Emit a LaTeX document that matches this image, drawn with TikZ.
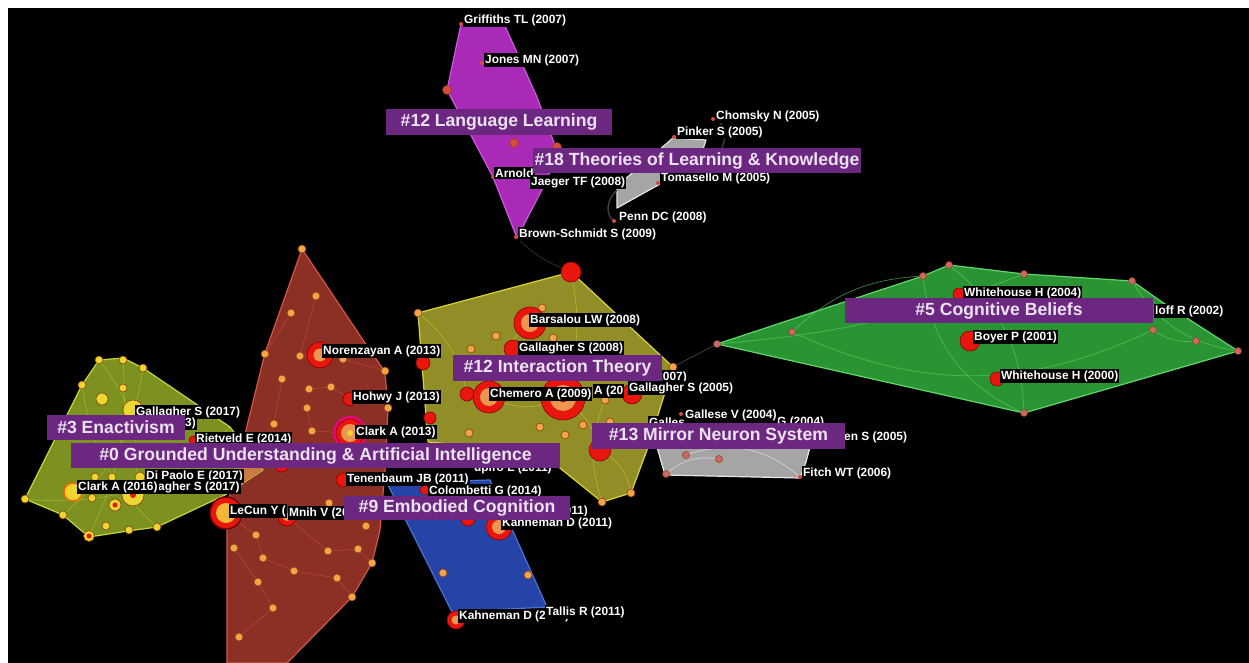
\documentclass[tikz,border=0pt]{standalone}
\usepackage{fontspec}
\setmainfont{Liberation Sans}
\newcommand\lblfont{\fontsize{11.9}{12}\selectfont\bfseries}
\newcommand\clfont{\fontsize{17.6}{18}\selectfont\bfseries}
\definecolor{clpurple}{RGB}{108,40,128}
\definecolor{cltext}{RGB}{236,226,242}
\definecolor{nodered}{RGB}{232,22,12}
\definecolor{nodedark}{RGB}{140,0,0}
\definecolor{nodeorange}{RGB}{236,150,80}
\definecolor{dotorange}{RGB}{240,165,70}
\definecolor{dotedge}{RGB}{140,60,20}
\definecolor{dotyellow}{RGB}{236,214,48}
\definecolor{dotpink}{RGB}{205,105,100}
\definecolor{tinyred}{RGB}{215,75,60}
\definecolor{redfill}{RGB}{140,48,38}
\definecolor{rededge}{RGB}{215,85,65}
\definecolor{grnfill}{RGB}{125,145,32}
\definecolor{grnedge}{RGB}{195,215,60}
\definecolor{yelfill}{RGB}{145,142,40}
\definecolor{yeledge}{RGB}{218,212,55}
\definecolor{blufill}{RGB}{38,68,168}
\definecolor{bluedge}{RGB}{75,115,215}
\definecolor{magfill}{RGB}{168,42,182}
\definecolor{magedge}{RGB}{205,90,220}
\definecolor{gryfill}{RGB}{165,165,165}
\definecolor{gryedge}{RGB}{228,228,228}
\definecolor{gvfill}{RGB}{42,148,52}
\definecolor{gvedge}{RGB}{95,215,105}
\definecolor{overlap}{RGB}{200,122,66}
\begin{document}
\begin{tikzpicture}[x=1pt,y=-1pt,
  lbl/.style={fill=black,text=white,font=\lblfont,inner xsep=1pt,inner ysep=1.2pt,anchor=west},
  clab/.style={fill=clpurple,text=cltext,font=\clfont,inner sep=0pt},
  rr/.style={circle,inner sep=0pt,fill=nodered,draw=nodedark,line width=0.6pt},
  oc/.style={circle,inner sep=0pt,fill=nodeorange},
  odot/.style={circle,inner sep=0pt,minimum size=8pt,fill=dotorange,draw=dotedge,line width=0.6pt},
  ydot/.style={circle,inner sep=0pt,minimum size=8pt,fill=dotyellow,draw=dotedge,line width=0.6pt},
  pdot/.style={circle,inner sep=0pt,minimum size=7pt,fill=dotpink,draw=dotedge,line width=0.5pt},
  tdot/.style={circle,inner sep=0pt,minimum size=4pt,fill=tinyred},
  mdot/.style={circle,inner sep=0pt,minimum size=9pt,fill=tinyred,draw=dotedge,line width=0.5pt},
  hull/.style={line width=1.2pt,line join=round},
  rlink/.style={draw=rededge,line width=0.6pt,opacity=0.55},
  ylink/.style={draw=yeledge,line width=0.7pt,opacity=0.5},
  glink/.style={draw=grnedge,line width=0.7pt,opacity=0.45},
  vlink/.style={draw=gvedge,line width=0.8pt,opacity=0.55},
  dlink/.style={draw=black!75,line width=1pt}
]
\useasboundingbox (0,0) rectangle (1249,663);
\fill[white] (0,0) rectangle (1249,663);
\fill[black] (8,8) rectangle (1249,663);

% ---------- hulls ----------
\draw[hull,fill=redfill,draw=rededge] (302,249) -- (363,340) -- (385,372) -- (388,410) -- (385,470) -- (380,530) -- (372,563) -- (352,597) -- (287,663) -- (227,663) -- (227,507) -- (265,353) -- cycle;
\draw[hull,fill=grnfill,draw=grnedge] (99,360) -- (123,358) -- (143,368) -- (230,427) -- (263,470) -- (225,495) -- (157,527) -- (128,531) -- (89,537) -- (63,515) -- (25,499) -- (82,385) -- cycle;
\begin{scope}
  \clip (302,249) -- (363,340) -- (385,372) -- (388,410) -- (385,470) -- (380,530) -- (372,563) -- (352,597) -- (287,663) -- (227,663) -- (227,507) -- (265,353) -- cycle;
  \fill[overlap] (143,368) -- (230,427) -- (263,470) -- (225,495) -- (157,527) -- cycle;
\end{scope}
\draw[hull,fill=yelfill,draw=yeledge] (418,313) -- (571,272) -- (673,367) -- (647,450) -- (631,493) -- (602,502) -- (540,452) -- (428,442) -- cycle;
\draw[hull,fill=blufill,draw=bluedge] (387,483) -- (490,480) -- (547,607) -- (452,612) -- cycle;
\draw[hull,fill=magfill,draw=magedge] (461,24) -- (505,26) -- (537,97) -- (556,148) -- (548,178) -- (517,238) -- (493,177) -- (447,90) -- cycle;
\draw[hull,fill=gryfill,draw=gryedge] (617,186) -- (673,138) -- (706,140) -- (698,165) -- (660,184) -- (617,208) -- cycle;
\draw[hull,fill=gryfill,draw=gryedge] (657,447) -- (670,432) -- (795,432) -- (810,447) -- (806,462) -- (800,478) -- (665,475) -- cycle;
\draw[hull,fill=gvfill,draw=gvedge] (717,344) -- (923,276) -- (949,265) -- (1024,274) -- (1132,281) -- (1162,302) -- (1238,351) -- (1024,413) -- cycle;

% ---------- red cluster (#0) ----------
\foreach \x/\y [count=\i] in {302/249,316/296,291/313,265/354,300/356,343/359,385/371,282/379,309/389,331/387,307/408,388/408,274/424,312/431,256/535,234/548,263/558,328/551,358/549,366/526,372/563,294/571,258/582,337/578,352/597,273/608,239/637,329/503}
  \coordinate (rc\i) at (\x,\y);
\draw[rlink] (rc2) -- (rc5) (rc9) -- (rc10) (rc11) -- (rc14) (rc15) -- (rc17) (rc17) -- (rc22) (rc22) -- (rc24) (rc24) -- (rc25) (rc18) -- (rc19) (rc19) -- (rc21) (rc23) -- (rc26) (rc26) -- (rc27) (rc16) -- (rc23) (rc13) -- (rc8) (rc3) -- (rc4) (rc6) -- (rc7);
\foreach \i in {1,...,28} \node[odot] (rd\i) at (rc\i) {};
\node[rr,minimum size=26pt] (nor) at (320,355) {};
\node[oc,minimum size=13pt] (norc) at (nor) {};
\node[rr,minimum size=14pt] (hoh) at (350,399) {};
\node[circle,inner sep=0pt,minimum size=34pt,fill=magenta!85!red] (clam) at (350,433) {};
\node[rr,minimum size=28pt] (cla13) at (clam) {};
\node[oc,minimum size=18pt] (cla13c) at (clam) {};
\node[circle,inner sep=0pt,minimum size=6pt,fill=dotyellow] (cla13y) at (clam) {};
\node[rr,minimum size=32pt,draw=red!45!black,line width=1.5pt] (lec) at (226,513) {};
\node[circle,inner sep=0pt,minimum size=20pt,fill=dotorange!80!yellow] (lecc) at (lec) {};
\node[rr,minimum size=18pt] (mni) at (287,517) {};
\node[oc,minimum size=8pt] (mnic) at (mni) {};
\node[rr,minimum size=14pt] (ten) at (343,480) {};
\node[rr,minimum size=14pt] (rx1) at (282,465) {};
\draw[rlink] (lec) -- (rd15) (mni) -- (rd18) (rd5) -- (nor) (rd10) -- (hoh) (rd14) -- (cla13);

% ---------- green cluster (#3) ----------
\draw[glink] (99,360) to[bend left=25] (133,495);
\draw[glink] (82,385) to[bend right=20] (157,527);
\draw[glink] (143,368) to[bend left=20] (63,515);
\draw[glink] (25,499) to[bend right=25] (230,427);
\draw[glink] (123,360) to[bend left=15] (89,536);
\foreach \x/\y [count=\i] in {99/360,123/360,143/368,82/385,123/388,25/499,63/515,106/526,129/530,157/527,95/477,112/477,92/498}
  \node[ydot] (gd\i) at (\x,\y) {};
\node[ydot,minimum size=12pt] (gb1) at (102,399) {};
\node[ydot,minimum size=20pt] (gb2) at (133,410) {};
\node[ydot,minimum size=18pt,draw=orange!80!red,line width=1.4pt] (gb3) at (73,492) {};
\node[ydot,minimum size=12pt] (gb4) at (115,505) {};
\node[circle,inner sep=0pt,minimum size=5pt,fill=nodered] (gb4c) at (gb4) {};
\node[ydot,minimum size=22pt] (gb5) at (133,495) {};
\node[circle,inner sep=0pt,minimum size=6pt,fill=nodered] (gb5c) at (gb5) {};
\node[ydot,minimum size=11pt] (gb6) at (89,536) {};
\node[circle,inner sep=0pt,minimum size=5pt,fill=nodered] (gb6c) at (gb6) {};
\node[ydot,minimum size=10pt] (gb7) at (140,477) {};
\node[rr,minimum size=8pt] (rie) at (193,440) {};

% ---------- yellow cluster (#12 Interaction) ----------
\draw[ylink] (530,323) to[bend right=20] (489,397);
\draw[ylink] (489,397) to[bend right=25] (563,398);
\draw[ylink] (563,398) to[bend left=20] (600,450);
\draw[ylink] (600,450) to[bend left=25] (631,493);
\draw[ylink] (605,400) to[bend right=20] (602,502);
\draw[ylink] (571,272) to[bend left=15] (563,398);
\draw[ylink] (418,313) to[bend left=20] (467,394);
\draw[ylink] (632,394) to[bend right=15] (673,367);
\foreach \x/\y [count=\i] in {418/313,542/308,496/336,471/349,553/338,673/367,605/400,540/427,565/435,583/425,610/422,469/433,631/493,602/502}
  \node[odot] (yd\i) at (\x,\y) {};
\node[rr,minimum size=20pt] (ytop) at (571,272) {};
\node[rr,minimum size=32pt] (bar) at (530,323) {};
\node[oc,minimum size=18pt] (barc) at (bar) {};
\node[rr,minimum size=18pt] (gal08) at (513,349) {};
\node[rr,minimum size=14pt] (yr1) at (423,363) {};
\node[rr,minimum size=14pt] (yr2) at (467,394) {};
\node[rr,minimum size=32pt] (che) at (489,397) {};
\node[oc,minimum size=18pt] (chec) at (che) {};
\node[rr,minimum size=44pt] (ybig) at (563,398) {};
\node[oc,minimum size=26pt] (ybigc) at (ybig) {};
\node[rr,minimum size=8pt] (ybigr) at (ybig) {};
\node[rr,minimum size=20pt] (gal05) at (632,394) {};
\node[rr,minimum size=12pt] (yr3) at (430,418) {};
\node[rr,minimum size=22pt] (yr4) at (600,450) {};

% ---------- blue cluster (#9) ----------
\node[rr,minimum size=26pt] (kah) at (499,527) {};
\node[oc,minimum size=14pt] (kahc) at (kah) {};
\node[odot] (bd1) at (443,573) {};
\node[odot] (bd2) at (528,575) {};
\node[rr,minimum size=18pt] (kah2) at (456,620) {};
\node[oc,minimum size=9pt] (kah2c) at (kah2) {};
\node[rr,minimum size=10pt] (col) at (425,490) {};
\node[rr,minimum size=14pt] (br1) at (468,519) {};

% ---------- magenta cluster (#12 Language) ----------
\node[tdot] (gri) at (461,24) {};
\node[tdot] (jon) at (482,63) {};
\node[tdot] (arn) at (493,177) {};
\node[tdot] (jae) at (531,185) {};
\node[tdot] (bro) at (516,237) {};
\node[mdot] (md1) at (447,90) {};
\node[mdot] (md2) at (514,143) {};
\node[mdot] (md3) at (557,147) {};
\draw[dlink,draw=black!85] (bro) to[bend right=10] (ytop);

% ---------- gray cluster (#18) ----------
\node[tdot] (cho) at (713,119) {};
\node[tdot] (pin) at (674,137) {};
\node[tdot] (tom) at (658,183) {};
\node[tdot] (pen) at (614,221) {};
\coordinate (arc18a) at (703,168);
\coordinate (arc18b) at (617,190);
\draw[dlink,line width=1.4pt] (cho) .. controls (735,128) and (722,158) .. (arc18a);
\draw[dlink,line width=1.4pt] (arc18b) .. controls (606,200) and (606,214) .. (pen);

% ---------- gray cluster (#13) ----------
\draw[draw=white,opacity=0.5,line width=0.7pt] (686,455) to[bend left=30] (800,477);
\draw[draw=white,opacity=0.5,line width=0.7pt] (666,474) to[bend left=25] (719,459);
\node[pdot] (md13a) at (666,474) {};
\node[pdot] (md13b) at (686,455) {};
\node[pdot] (md13c) at (719,459) {};
\node[tdot] (fit) at (800,477) {};
\node[tdot] (gal04) at (681,414) {};

% ---------- green cluster (#5) ----------
\foreach \x/\y [count=\i] in {717/344,792/332,923/276,949/265,1024/274,1132/281,1153/330,1196/341,1238/351,1024/413}
  \coordinate (vc\i) at (\x,\y);
\draw[vlink] (vc2) to[bend left=20] (vc3);
\draw[vlink] (vc3) to[bend right=30] (vc10);
\draw[vlink] (vc4) to[bend left=25] (vc10);
\draw[vlink] (vc2) to[bend right=25] (vc7);
\draw[vlink] (vc6) to[bend right=25] (vc9);
\draw[vlink] (vc7) to[bend right=20] (vc8);
\draw[vlink] (vc1) to[bend right=8] (vc5);
\foreach \i in {1,...,10} \node[pdot] (vd\i) at (vc\i) {};
\node[rr,minimum size=12pt] (wh04) at (959,294) {};
\node[rr,minimum size=20pt] (boy) at (970,341) {};
\node[rr,minimum size=14pt] (wh00) at (997,379) {};
\draw[dlink,draw=black!70,line width=0.6pt] (yd6) -- (vd1);

% ---------- author labels ----------
\node[lbl] (lgri) at (463,20) {Griffiths TL (2007)};
\node[lbl] (ljon) at (484,60) {Jones MN (2007)};
\node[lbl] (larn) at (494,173) {Arnold};
\node[lbl] (ljae) at (530,182) {Jaeger TF (2008)};
\node[lbl] (lbro) at (518,234) {Brown-Schmidt S (2009)};
\node[lbl] (lcho) at (715,116) {Chomsky N (2005)};
\node[lbl] (lpin) at (676,132) {Pinker S (2005)};
\node[lbl] (ltom) at (660,178) {Tomasello M (2005)};
\node[lbl] (lpen) at (618,217) {Penn DC (2008)};

\node[lbl] (lnor) at (322,351) {Norenzayan A (2013)};
\node[lbl] (lhoh) at (352,397) {Hohwy J (2013)};
\node[lbl] (lcla13) at (355,432) {Clark A (2013)};
\node[lbl] (lsha) at (473,468) {upiro L (2011)};
\node[lbl] (lten) at (346,479) {Tenenbaum JB (2011)};
\node[lbl] (llec) at (229,511) {LeCun Y (};
\node[lbl] (lmni) at (288,513) {Mnih V (2015)};

\node[lbl] (lgal17a) at (135,412) {Gallagher S (2017)};
\node[lbl] (lx13) at (184,423) {3)};
\node[lbl] (lrie) at (195,439) {Rietveld E (2014)};
\node[lbl] (ldip) at (145,476) {Di Paolo E (2017)};
\node[lbl] (lgal17b) at (157,487) {agher S (2017)};
\node[lbl] (lcla16) at (77,487) {Clark A (2016)};

\node[lbl] (lbar) at (529,320) {Barsalou LW (2008)};
\node[lbl] (lgal08) at (518,348) {Gallagher S (2008)};
\node[lbl,anchor=east] (lx07) at (688,377) {(2007)};
\node[lbl] (lcla08) at (593,391) {A (20};
\node[lbl] (lgal05) at (628,388) {Gallagher S (2005)};
\node[lbl] (lche) at (489,394) {Chemero A (2009)};

\node[lbl] (lgalx) at (648,422) {Galles};
\node[lbl] (lriz) at (776,422) {G (2004)};
\node[lbl] (lgal04) at (684,415) {Gallese V (2004)};
\node[lbl] (lbco) at (843,437) {en S (2005)};
\node[lbl] (lfit) at (802,473) {Fitch WT (2006)};

\node[lbl] (lcol) at (428,491) {Colombetti G (2014)};
\node[lbl,anchor=east] (lx11) at (589,511) {(2011)};
\node[lbl] (lkah) at (501,523) {Kahneman D (2011)};
\node[lbl] (lkah2) at (458,616) {Kahneman D (2011)};
\node[lbl] (ltal) at (545,612) {Tallis R (2011)};

\node[lbl] (lwh04) at (963,293) {Whitehouse H (2004)};
\node[lbl] (lboy) at (973,337) {Boyer P (2001)};
\node[lbl] (lwh00) at (1000,376) {Whitehouse H (2000)};
\node[lbl] (llof) at (1154,311) {loff R (2002)};

% ---------- cluster labels ----------
\node[clab,minimum width=226pt,minimum height=26pt] (c12a) at (499,122) {\#12 Language Learning};
\node[clab,minimum width=328pt,minimum height=25pt] (c18) at (697,160.5) {\#18 Theories of Learning \& Knowledge};
\node[clab,minimum width=308pt,minimum height=25pt] (c5) at (999,310.5) {\#5 Cognitive Beliefs};
\node[clab,minimum width=209pt,minimum height=26pt] (c12b) at (557.5,368) {\#12 Interaction Theory};
\node[clab,minimum width=138pt,minimum height=25pt] (c3) at (116,427.5) {\#3 Enactivism};
\node[clab,minimum width=253pt,minimum height=26pt] (c13) at (718.5,436) {\#13 Mirror Neuron System};
\node[clab,minimum width=489pt,minimum height=25pt] (c0) at (315.5,455.5) {\#0 Grounded Understanding \& Artificial Intelligence};
\node[clab,minimum width=226pt,minimum height=24pt] (c9) at (457,508) {\#9 Embodied Cognition};
\end{tikzpicture}
\end{document}
